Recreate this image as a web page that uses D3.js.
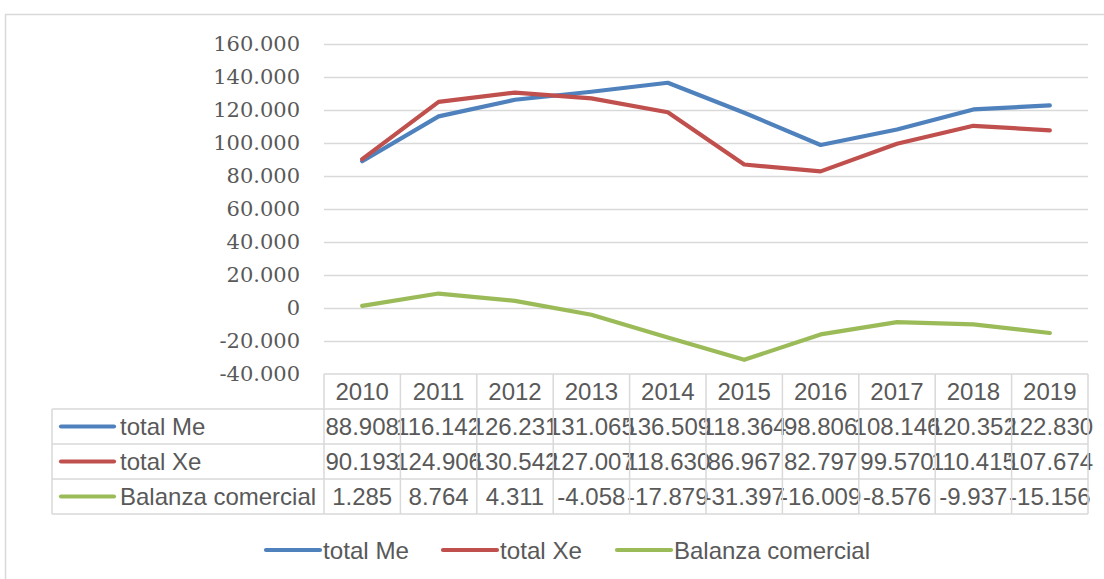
<!DOCTYPE html>
<html>
<head>
<meta charset="utf-8">
<script src="https://cdn.jsdelivr.net/npm/d3@7"></script>
<style>
  html, body { margin: 0; padding: 0; background: #fff; }
  svg { display: block; }
</style>
</head>
<body>
<svg id="chart" width="1104" height="579"></svg>
<script>
"use strict";

// data
const years = ["2010", "2011", "2012", "2013", "2014", "2015", "2016", "2017", "2018", "2019"];
const totalMe = [88908, 116142, 126231, 131065, 136509, 118364, 98806, 108146, 120352, 122830];
const totalXe = [90193, 124906, 130542, 127007, 118630, 86967, 82797, 99570, 110415, 107674];
const balanza = [1285, 8764, 4311, -4058, -17879, -31397, -16009, -8576, -9937, -15156];
const seriesNames = ["total Me", "total Xe", "Balanza comercial"];
const yTicks = [-40000, -20000, 0, 20000, 40000, 60000, 80000, 100000, 120000, 140000, 160000];

const colors = ["#4F81BD", "#C0504D", "#9BBB59"];
const series = seriesNames.map((name, i) => ({ name: name, values: [totalMe, totalXe, balanza][i], color: colors[i] }));

const svg = d3.select("#chart");
const grey = "#d9d9d9";
const textColor = "#595959";

// spanish number format: 88.908
const es = d3.formatLocale({ decimal: ",", thousands: ".", grouping: [3], currency: ["", "€"], minus: "-" });
const fmt = es.format(",d");

const plot = { left: 324, right: 1088, top: 44, bottom: 374 };

const x = d3.scaleBand().domain(years).range([plot.left, plot.right]).padding(0);
const y = d3.scaleLinear().domain([-40000, 160000]).range([plot.bottom, plot.top]);

// outer frame
svg.append("path")
    .attr("d", "M5.5,579 L5.5,14.5 L1104,14.5")
    .attr("fill", "none")
    .attr("stroke", grey)
    .attr("stroke-width", 1.5);

// gridlines
svg.append("g")
    .selectAll("line")
    .data(yTicks.filter(d => d !== -40000))
    .join("line")
    .attr("x1", plot.left)
    .attr("x2", plot.right)
    .attr("y1", d => Math.round(y(d)) + 0.5)
    .attr("y2", d => Math.round(y(d)) + 0.5)
    .attr("stroke", grey)
    .attr("stroke-width", 1.3);

// y axis labels
const yAxis = svg.append("g")
    .attr("transform", "translate(" + (plot.left - 24) + ",0)")
    .call(d3.axisLeft(y).tickValues(yTicks).tickSize(0).tickPadding(0).tickFormat(fmt));
yAxis.select(".domain").remove();
yAxis.selectAll("text")
    .attr("fill", textColor)
    .style("font-family", "'DejaVu Serif', serif")
    .style("font-size", "21px");

// lines
const line = d3.line()
    .x((d, i) => x(years[i]) + x.bandwidth() / 2)
    .y(d => y(d));

svg.append("g")
    .selectAll("path")
    .data(series)
    .join("path")
    .attr("d", d => line(d.values))
    .attr("fill", "none")
    .attr("stroke", d => d.color)
    .attr("stroke-width", 4.2)
    .attr("stroke-linejoin", "round")
    .attr("stroke-linecap", "round");

// data table
const rowH = 35;
const headTop = plot.bottom;
const tableLeft = 52;
const table = svg.append("g")
    .style("font-family", "'Liberation Sans', Arial, sans-serif")
    .style("font-size", "24px")
    .attr("fill", textColor);

// header row
table.append("g")
    .selectAll("text")
    .data(years)
    .join("text")
    .attr("x", d => x(d) + x.bandwidth() / 2)
    .attr("y", headTop + rowH / 2 + 8.5)
    .attr("text-anchor", "middle")
    .text(d => d);

// series rows
series.forEach((s, r) => {
    const top = headTop + rowH * (r + 1);
    const cy = top + rowH / 2;
    table.append("line")
        .attr("x1", 61).attr("x2", 114)
        .attr("y1", cy).attr("y2", cy)
        .attr("stroke", s.color)
        .attr("stroke-width", 4.2)
        .attr("stroke-linecap", "round");
    table.append("text")
        .attr("x", 120)
        .attr("y", cy + 8.5)
        .text(s.name);
    table.append("g")
        .selectAll("text")
        .data(s.values)
        .join("text")
        .attr("x", (d, i) => x(years[i]) + x.bandwidth() / 2)
        .attr("y", cy + 8.5)
        .attr("text-anchor", "middle")
        .text(d => fmt(d));
});

// table borders
const borders = svg.append("g")
    .attr("stroke", grey)
    .attr("stroke-width", 1.5)
    .attr("fill", "none");
const tableBottom = headTop + rowH * 4;
// horizontal
borders.append("line").attr("x1", plot.left).attr("x2", plot.right).attr("y1", headTop).attr("y2", headTop);
[1, 2, 3, 4].forEach(k => {
    borders.append("line")
        .attr("x1", tableLeft).attr("x2", plot.right)
        .attr("y1", headTop + rowH * k).attr("y2", headTop + rowH * k);
});
// vertical
borders.append("line").attr("x1", tableLeft).attr("x2", tableLeft).attr("y1", headTop + rowH).attr("y2", tableBottom);
borders.selectAll(".v")
    .data(years.concat(["end"]))
    .join("line")
    .attr("x1", (d, i) => plot.left + x.step() * i)
    .attr("x2", (d, i) => plot.left + x.step() * i)
    .attr("y1", headTop)
    .attr("y2", tableBottom);

// legend
const legendItems = [
    { x: 266, name: seriesNames[0], color: colors[0], w: 86 },
    { x: 443, name: seriesNames[1], color: colors[1], w: 82 },
    { x: 617, name: seriesNames[2], color: colors[2], w: 196 }
];
const legend = svg.append("g")
    .style("font-family", "'Liberation Sans', Arial, sans-serif")
    .style("font-size", "24px");
legendItems.forEach(it => {
    legend.append("line")
        .attr("x1", it.x).attr("x2", it.x + 54)
        .attr("y1", 550).attr("y2", 550)
        .attr("stroke", it.color)
        .attr("stroke-width", 4.2)
        .attr("stroke-linecap", "round");
    legend.append("text")
        .attr("x", it.x + 57)
        .attr("y", 558.5)
        .attr("fill", textColor)
        .attr("textLength", it.w)
        .attr("lengthAdjust", "spacingAndGlyphs")
        .text(it.name);
});
</script>
</body>
</html>
